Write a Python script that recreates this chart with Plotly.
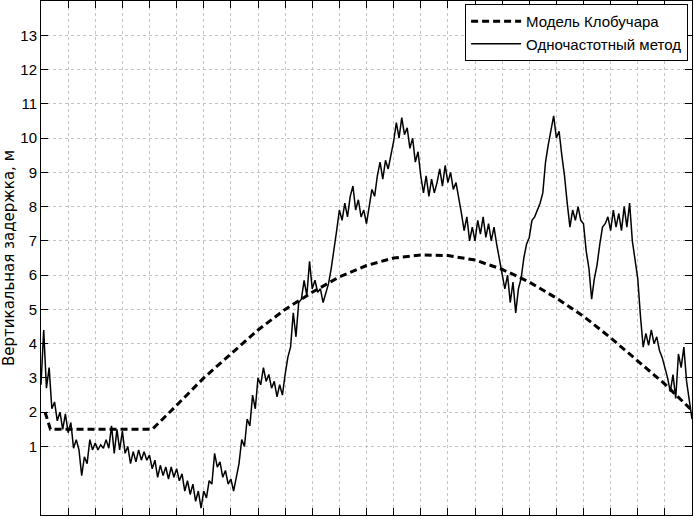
import plotly.graph_objects as go

# Klobuchar model (hours, metres)
klob_t = [0.15, 0.35, 1, 2, 3, 4.1, 5, 6, 7, 8, 9, 10, 11, 12, 13, 14, 15, 16, 17, 18, 19, 20, 21, 22, 23, 24]
klob_v = [2.0, 1.5, 1.5, 1.5, 1.5, 1.5, 2.2, 3.0, 3.7, 4.4, 5.0, 5.5, 5.95, 6.28, 6.5, 6.59, 6.57, 6.44, 6.17, 5.8, 5.33, 4.8, 4.17, 3.5, 2.82, 2.05]

# Single-frequency method, sampled every 0.1 h from t = 0 to 24
single_t0 = 0.0
single_dt = 0.1
single_v = [
    2.8, 4.4, 2.7, 3.3, 2.1, 2.3, 1.75, 2.0, 1.5, 1.95,
    1.4, 1.7, 0.95, 1.2, 0.9, 0.15, 0.7, 0.5, 1.2, 0.9,
    1.1, 0.9, 1.05, 0.95, 1.2, 0.95, 1.6, 0.8, 1.5, 0.9,
    1.45, 0.8, 1.0, 0.5, 0.85, 0.55, 0.9, 0.6, 0.85, 0.6,
    0.75, 0.35, 0.6, 0.1, 0.45, 0.15, 0.4, 0.05, 0.4, 0.1,
    0.35, 0.0, 0.2, -0.3, 0.0, -0.4, -0.1, -0.6, -0.3, -0.8,
    -0.3, -0.5, 0.0, -0.1, 0.8, 0.4, 0.55, 0.1, 0.3, -0.1,
    0.05, -0.3, 0.1, 0.5, 1.2, 1.0, 1.8, 1.6, 2.5, 2.1,
    3.0, 2.8, 3.3, 2.9, 3.1, 2.7, 2.9, 2.45, 2.8, 2.5,
    3.1, 3.6, 3.9, 4.9, 4.2, 5.2, 5.3, 5.85, 5.4, 6.4,
    5.6, 5.85, 5.5, 5.6, 5.2, 5.5, 5.75, 6.2, 6.7, 7.3,
    7.9, 7.6, 8.1, 7.7, 8.3, 8.6, 7.9, 8.2, 7.7, 7.9,
    7.5, 8.0, 8.5, 8.3, 8.9, 9.3, 8.8, 9.35, 9.1, 9.5,
    9.9, 10.45, 10.0, 10.6, 10.1, 10.3, 9.7, 10.0, 9.3, 9.6,
    8.9, 8.4, 8.9, 8.3, 8.8, 8.4, 8.7, 9.1, 8.6, 9.2,
    8.7, 9.0, 8.5, 8.7, 8.3, 7.8, 7.3, 7.7, 7.0, 7.4,
    7.0, 7.6, 7.2, 7.7, 7.1, 7.5, 7.0, 7.4, 6.9, 6.5,
    6.1, 5.6, 6.0, 5.2, 5.8, 4.9, 5.6, 5.9, 6.5, 6.9,
    7.1, 7.6, 7.7, 7.9, 8.1, 8.4, 9.3, 9.8, 10.2, 10.65,
    10.0, 10.2, 9.5, 8.9, 8.1, 7.4, 7.9, 7.6, 8.0, 7.6,
    7.5, 6.7, 6.2, 5.3, 5.9, 6.3, 6.9, 7.4, 7.5, 7.7,
    7.3, 7.9, 7.4, 7.8, 7.3, 8.0, 7.4, 8.1, 7.0, 6.4,
    5.9, 4.8, 3.9, 4.3, 3.95, 4.4, 4.0, 4.2, 3.8, 3.6,
    3.3, 3.0, 2.6, 3.1, 2.4, 3.7, 3.3, 3.9, 2.9, 2.4,
    1.8,
]
single_t = [round(single_t0 + i * single_dt, 2) for i in range(len(single_v))]

y_ticks = [1, 2, 3, 4, 5, 6, 7, 8, 9, 10, 11, 12, 13]
x_ticks = list(range(0, 25))

FONT = "Liberation Sans, Arial, Helvetica, sans-serif"
TITLE_FONT = "DejaVu Sans, Liberation Sans, sans-serif"

fig = go.Figure()
fig.add_trace(go.Scatter(
    x=klob_t, y=klob_v, mode="lines", name="Модель Клобучара",
    line=dict(color="black", width=3, dash="7px,4px"),
))
fig.add_trace(go.Scatter(
    x=single_t, y=single_v, mode="lines", name="Одночастотный метод",
    line=dict(color="black", width=1.5),
))

axis_common = dict(
    showline=True, linecolor="black", linewidth=1, mirror="ticks",
    ticks="inside", ticklen=7, tickcolor="black", tickwidth=1,
    showgrid=True, gridcolor="#c4c4c4", griddash="dot", gridwidth=1,
    zeroline=False,
)

fig.update_layout(
    width=694, height=517,
    margin=dict(l=41, r=2, t=1, b=2, autoexpand=False),
    paper_bgcolor="white", plot_bgcolor="white",
    font=dict(family=FONT, size=14, color="black"),
    showlegend=True,
    legend=dict(
        x=0.994, y=0.994, xanchor="right", yanchor="top",
        bgcolor="white", bordercolor="black", borderwidth=1,
        font=dict(family=FONT, size=15, color="black"),
        tracegroupgap=0, itemwidth=50,
    ),
    xaxis=dict(range=[0, 24], tickvals=x_ticks, showticklabels=False, automargin=False, **axis_common),
    yaxis=dict(
        range=[-1, 14], tickvals=y_ticks, ticktext=[str(v) for v in y_ticks],
        tickfont=dict(family=FONT, size=15, color="black"),
        title=dict(text="Вертикальная задержка, м", font=dict(family=TITLE_FONT, size=15, color="black"), standoff=4),
        automargin=False,
        **axis_common,
    ),
)

fig.write_html("out.html", config={"displayModeBar": False})
with open("out.html", "r", encoding="utf-8") as f:
    html = f.read()
html = html.replace("<body>", '<body style="margin:0;padding:0;overflow:hidden">', 1)
with open("out.html", "w", encoding="utf-8") as f:
    f.write(html)
